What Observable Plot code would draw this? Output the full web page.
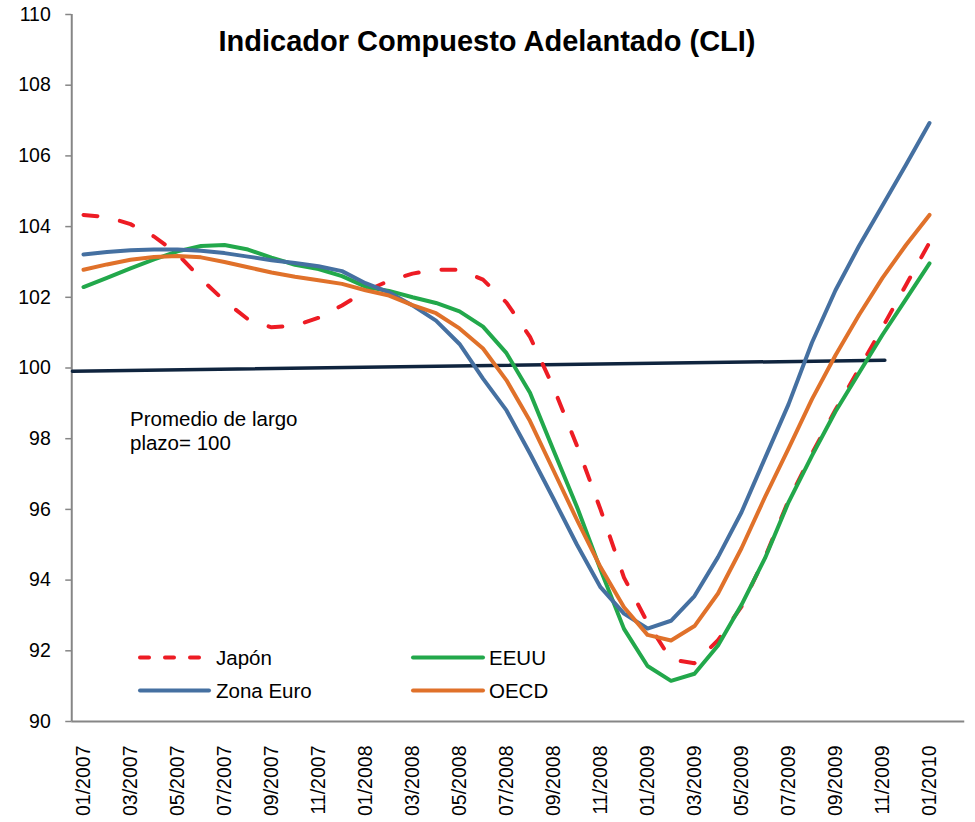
<!DOCTYPE html>
<html>
<head>
<meta charset="utf-8">
<script src="https://cdn.jsdelivr.net/npm/d3@7"></script>
<script src="https://cdn.jsdelivr.net/npm/@observablehq/plot@0.6"></script>
<style>
  body { margin: 0; background: #fff; }
  #wrap { position: relative; width: 975px; height: 822px; font-family: Arial, "Liberation Sans", sans-serif; }
  #overlay { position: absolute; left: 0; top: 0; pointer-events: none; }
</style>
</head>
<body>
<div id="wrap"></div>
<script>
// ---- Data ----
const months = ["01/2007","02/2007","03/2007","04/2007","05/2007","06/2007","07/2007","08/2007","09/2007","10/2007","11/2007","12/2007",
  "01/2008","02/2008","03/2008","04/2008","05/2008","06/2008","07/2008","08/2008","09/2008","10/2008","11/2008","12/2008",
  "01/2009","02/2009","03/2009","04/2009","05/2009","06/2009","07/2009","08/2009","09/2009","10/2009","11/2009","12/2009",
  "01/2010"];

const japon = [104.33,104.27,104.07,103.72,103.23,102.52,101.90,101.38,101.15,101.20,101.42,101.77,
  102.17,102.47,102.67,102.78,102.78,102.50,101.85,100.88,99.45,97.80,96.00,94.07,
  92.80,91.75,91.65,92.30,93.25,94.65,96.25,97.58,98.82,99.97,101.15,102.35,103.55];

const eeuu = [102.29,102.55,102.82,103.07,103.30,103.45,103.48,103.35,103.12,102.92,102.80,102.60,
  102.30,102.18,102.00,101.84,101.60,101.17,100.42,99.30,97.67,96.07,94.30,92.62,
  91.57,91.15,91.35,92.15,93.30,94.62,96.20,97.52,98.77,99.86,100.94,101.95,102.96];

const zonaEuro = [103.21,103.28,103.33,103.35,103.35,103.32,103.25,103.15,103.05,102.97,102.88,102.74,
  102.40,102.14,101.77,101.34,100.68,99.70,98.80,97.58,96.30,95.00,93.80,93.05,
  92.63,92.85,93.55,94.65,95.92,97.45,98.97,100.72,102.20,103.45,104.60,105.75,106.93];

const oecd = [102.78,102.93,103.06,103.14,103.17,103.13,103.00,102.85,102.70,102.58,102.48,102.38,
  102.20,102.05,101.78,101.55,101.12,100.55,99.65,98.50,97.10,95.70,94.37,93.23,
  92.45,92.29,92.70,93.62,94.90,96.35,97.72,99.12,100.36,101.50,102.55,103.48,104.33];

const seriesNames = ["Japón", "EEUU", "Zona Euro", "OECD"];
const seriesValues = [japon, eeuu, zonaEuro, oecd];
const seriesColors = ["#ED1C24", "#22A84B", "#4570A1", "#E0712A"];

// long-term average reference line (hand drawn, slightly tilted)
const refLineX = [-0.47, 34.1];
const refLineY = [99.91, 100.22];

const yTicks = [90, 92, 94, 96, 98, 100, 102, 104, 106, 108, 110];
const xTickIdx = d3.range(0, months.length, 2);

const titleText = "Indicador Compuesto Adelantado (CLI)";
const noteLines = ["Promedio de largo", "plazo= 100"];

// ---- Build table ----
const rows = [];
seriesNames.forEach((name, s) => seriesValues[s].forEach((v, i) => rows.push({series: name, i, v})));
const refRows = refLineX.map((x, k) => ({x, y: refLineY[k]}));

const W = 975, H = 822;
const font = 'Arial, "Liberation Sans", sans-serif';

const lineFor = (name, extra = {}) => Plot.line(rows.filter(d => d.series === name), {
  x: "i", y: "v",
  stroke: seriesColors[seriesNames.indexOf(name)],
  strokeWidth: 4, strokeLinejoin: "round", strokeLinecap: "round", ...extra
});

const chart = Plot.plot({
  width: W, height: H,
  marginLeft: 71.25, marginRight: 10.75, marginTop: 14, marginBottom: 101,
  style: {fontFamily: font, fontSize: "19.5px", color: "#000", background: "#fff", overflow: "visible"},
  x: {domain: [-0.5, 37.5]},
  y: {domain: [90, 110]},
  marks: [
    Plot.ruleY([90], {stroke: "#868686", strokeWidth: 2}),
    Plot.ruleX([-0.5], {stroke: "#868686", strokeWidth: 2}),
    Plot.axisY({ticks: yTicks, tickSize: 6, tickPadding: 15, stroke: "#868686", strokeWidth: 1.5, tickFormat: d => String(d), fontSize: 19.5}),
    Plot.axisX({ticks: xTickIdx, tickSize: 0, tickPadding: 24, tickRotate: -90, tickFormat: i => months[i], fontSize: 19.5}),
    Plot.line(refRows, {x: "x", y: "y", stroke: "#0F243E", strokeWidth: 3.5}),
    lineFor("Japón", {strokeDasharray: "14,23"}),
    lineFor("EEUU"),
    lineFor("Zona Euro"),
    lineFor("OECD")
  ]
});

const wrap = document.getElementById("wrap");
wrap.appendChild(chart);

// ---- Overlay: title, annotation, legend ----
const svg = d3.select(wrap).append("svg").attr("id", "overlay")
  .attr("width", W).attr("height", H)
  .style("font-family", font);

svg.append("text").attr("x", 487).attr("y", 51).attr("text-anchor", "middle")
  .attr("font-size", 29).attr("font-weight", "bold").attr("fill", "#000").text(titleText);

noteLines.forEach((t, k) => svg.append("text").attr("x", 130).attr("y", 426 + k * 24)
  .attr("font-size", 20.5).attr("fill", "#000").text(t));

const legendItems = [
  {name: "Japón", x: 140, y: 657.5, len: 65, tx: 216, dash: "9,16"},
  {name: "EEUU", x: 413, y: 657.5, len: 70, tx: 489, dash: null},
  {name: "Zona Euro", x: 140, y: 690.5, len: 69, tx: 216, dash: null},
  {name: "OECD", x: 413, y: 690.5, len: 70, tx: 489, dash: null}
];
legendItems.forEach(it => {
  const c = seriesColors[seriesNames.indexOf(it.name)];
  const ln = svg.append("line").attr("x1", it.x).attr("x2", it.x + it.len)
    .attr("y1", it.y).attr("y2", it.y).attr("stroke", c).attr("stroke-width", 4)
    .attr("stroke-linecap", "round");
  if (it.dash) ln.attr("stroke-dasharray", it.dash);
  svg.append("text").attr("x", it.tx).attr("y", it.y + 7.3).attr("font-size", 20.5)
    .attr("fill", "#000").text(it.name);
});
</script>
</body>
</html>
